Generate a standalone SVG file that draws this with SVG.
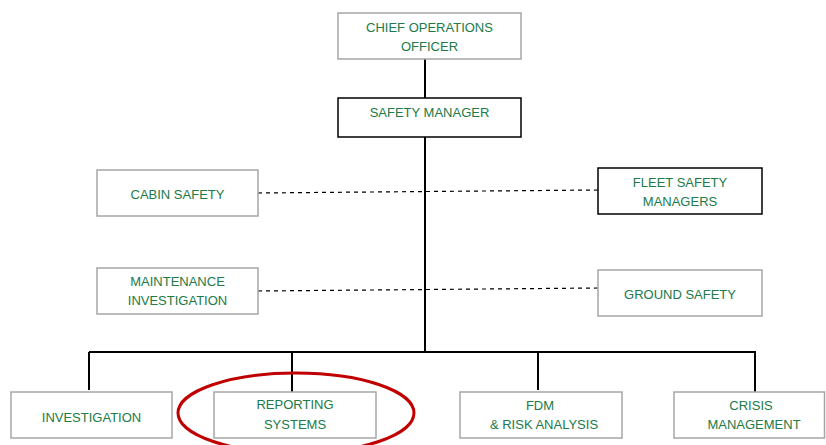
<svg xmlns="http://www.w3.org/2000/svg" width="826" height="445" viewBox="0 0 826 445">
<style>
.box{fill:#fff;stroke:#a6a6a6;stroke-width:1.5}
.boxk{fill:#fff;stroke:#000;stroke-width:1.5}
.t{font-family:"Liberation Sans",Arial,sans-serif;font-size:13px;fill:#217a47;text-anchor:middle}
.ln{stroke:#000;stroke-width:2;fill:none}
.dash{stroke:#000;stroke-width:1.2;stroke-dasharray:4 4;fill:none}
</style>
<rect width="826" height="445" fill="#fff"/>
<g id="connectors">
<line class="ln" x1="425" y1="59" x2="425" y2="98"/>
<line class="ln" x1="425" y1="137" x2="425" y2="352"/>
<line class="dash" x1="258" y1="193" x2="598" y2="190"/>
<line class="dash" x1="258" y1="291" x2="598" y2="288"/>
<line class="ln" x1="89" y1="352" x2="756" y2="352"/>
<line class="ln" x1="89" y1="352" x2="89" y2="390"/>
<line class="ln" x1="292" y1="352" x2="292" y2="392"/>
<line class="ln" x1="538" y1="352" x2="538" y2="390"/>
<line class="ln" x1="755" y1="352" x2="755" y2="392"/>
</g>
<g id="coo"><rect class="box" x="338" y="13" width="183" height="46"/><text class="t" x="429.5" y="32">CHIEF OPERATIONS</text><text class="t" x="429.5" y="51">OFFICER</text></g>
<g id="safety-manager"><rect class="boxk" x="338" y="98" width="183" height="39"/><text class="t" x="429.5" y="117">SAFETY MANAGER</text></g>
<g id="cabin-safety"><rect class="box" x="97" y="170" width="161" height="46"/><text class="t" x="177.5" y="199">CABIN SAFETY</text></g>
<g id="maintenance-investigation"><rect class="box" x="97" y="268" width="161" height="46"/><text class="t" x="177.5" y="286">MAINTENANCE</text><text class="t" x="177.5" y="305">INVESTIGATION</text></g>
<g id="fleet-safety-managers"><rect class="boxk" x="598" y="168" width="164" height="46"/><text class="t" x="680" y="187">FLEET SAFETY</text><text class="t" x="680" y="206">MANAGERS</text></g>
<g id="ground-safety"><rect class="box" x="598" y="270" width="164" height="46"/><text class="t" x="680" y="299">GROUND SAFETY</text></g>
<g id="investigation"><rect class="box" x="11" y="392" width="161" height="46"/><text class="t" x="91.5" y="422">INVESTIGATION</text></g>
<g id="reporting-systems"><rect class="box" x="214" y="392" width="162" height="46"/><text class="t" x="295" y="409">REPORTING</text><text class="t" x="295" y="429">SYSTEMS</text></g>
<g id="fdm"><rect class="box" x="460" y="392" width="162" height="46"/><text class="t" x="540" y="410">FDM</text><text class="t" x="544" y="429">&amp; RISK ANALYSIS</text></g>
<g id="crisis-management"><rect class="box" x="674" y="392" width="150.5" height="46"/><text class="t" x="751" y="410">CRISIS</text><text class="t" x="754" y="429">MANAGEMENT</text></g>
<g id="highlight"><ellipse cx="296" cy="413" rx="118" ry="40" fill="none" stroke="#c00000" stroke-width="3"/></g>
</svg>
